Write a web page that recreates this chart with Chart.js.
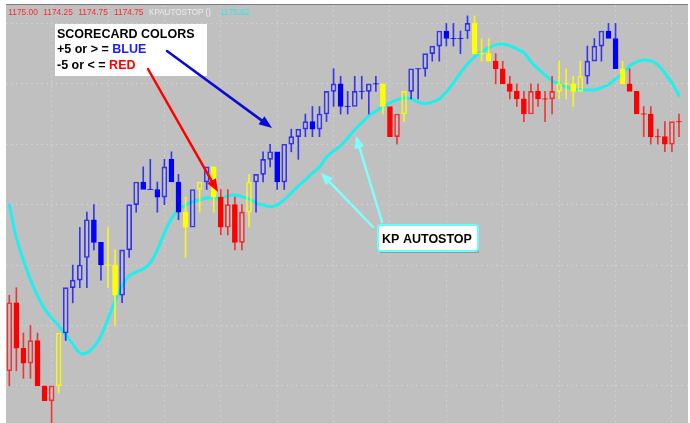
<!DOCTYPE html>
<html><head><meta charset="utf-8">
<script src="https://cdn.jsdelivr.net/npm/chart.js@4.4.1/dist/chart.umd.min.js"></script>
<style>html,body{margin:0;padding:0;background:#fff;overflow:hidden}</style>
</head><body>
<canvas id="c" width="690" height="423"></canvas>
<script>
// ---- data (prices) ----
const bars = Array.from({length: 96}, (_, i) => i + 1);
const opens = [1166.50,1168.75,1167.25,1166.75,1167.50,1166.00,1165.50,1166.00,1167.75,1169.25,
1169.50,1170.25,1171.50,1170.75,1170.00,1170.00,1169.00,1170.50,1172.00,1172.75,
1172.50,1172.50,1172.25,1173.50,1172.75,1171.75,1171.25,1172.50,1172.75,1173.25,
1172.25,1171.25,1172.00,1170.75,1171.75,1172.75,1173.00,1173.50,1173.75,1172.75,
1174.00,1174.25,1174.50,1174.75,1174.50,1175.00,1175.75,1176.00,1175.25,1175.25,
1175.75,1175.75,1176.00,1176.00,1175.25,1174.25,1175.00,1175.75,1176.50,1176.50,
1177.00,1177.25,1177.75,1177.50,1177.50,1177.75,1178.00,1177.00,1177.00,1176.75,
1176.50,1176.00,1175.75,1175.50,1175.00,1175.75,1175.50,1175.50,1175.75,1176.00,
1176.00,1175.75,1176.25,1176.75,1177.25,1177.75,1177.50,1176.50,1176.00,1175.75,
1175.00,1175.00,1174.25,1174.25,1174.00,1174.75];
const highs = [1169.00,1169.25,1167.75,1168.00,1167.75,1166.00,1166.00,1167.75,1169.25,1170.00,
1171.25,1171.75,1172.00,1170.75,1171.25,1170.50,1170.50,1172.00,1172.75,1173.25,
1173.50,1172.75,1173.50,1173.75,1173.00,1172.25,1172.50,1172.75,1173.25,1173.25,
1172.50,1172.50,1172.25,1172.00,1173.00,1173.00,1173.75,1174.00,1173.75,1174.00,
1174.50,1174.50,1175.00,1175.25,1175.25,1175.75,1176.50,1176.25,1175.75,1176.25,
1176.25,1176.00,1176.25,1176.00,1175.25,1175.00,1175.75,1176.50,1176.50,1177.00,
1177.25,1177.75,1178.00,1178.00,1177.75,1178.25,1178.25,1177.50,1177.50,1177.00,
1176.75,1176.25,1176.00,1175.75,1176.00,1176.00,1175.75,1176.25,1176.75,1176.50,
1176.25,1176.75,1177.25,1177.50,1177.75,1178.00,1178.00,1176.75,1176.50,1175.75,
1175.25,1175.25,1174.50,1174.75,1174.75,1175.00];
const lows = [1166.00,1166.50,1166.25,1166.25,1166.00,1165.50,1164.50,1165.75,1167.50,1168.75,
1169.25,1169.25,1170.50,1169.50,1169.25,1168.00,1168.75,1170.25,1171.75,1172.50,
1172.50,1171.75,1172.00,1172.75,1171.50,1170.25,1171.25,1171.75,1172.50,1171.75,
1171.00,1171.00,1170.50,1170.50,1171.25,1171.75,1172.75,1173.25,1172.50,1172.50,
1173.75,1173.50,1174.25,1174.25,1174.25,1174.75,1175.25,1175.00,1175.00,1175.25,
1175.50,1175.00,1175.75,1175.00,1174.25,1174.00,1174.75,1175.50,1175.50,1176.25,
1176.75,1176.75,1177.25,1177.25,1177.00,1177.50,1177.00,1176.75,1176.75,1176.00,
1176.00,1175.50,1175.25,1174.75,1175.00,1175.25,1174.75,1175.00,1175.50,1175.50,
1175.25,1175.75,1176.00,1176.75,1176.75,1177.50,1176.50,1176.00,1175.75,1175.00,
1174.25,1174.00,1174.00,1173.75,1173.75,1174.25];
const closes = [1168.75,1167.25,1166.75,1167.50,1166.00,1165.50,1166.00,1167.75,1169.25,1169.50,
1170.00,1171.50,1170.75,1170.00,1170.00,1169.00,1170.50,1172.00,1172.75,1172.50,
1172.50,1172.25,1173.25,1172.75,1171.75,1171.25,1172.50,1172.75,1173.25,1172.25,
1171.25,1172.00,1170.75,1171.75,1172.75,1173.00,1173.50,1173.75,1172.75,1174.00,
1174.25,1174.50,1174.75,1174.50,1175.00,1175.75,1176.00,1175.25,1175.25,1175.75,
1175.75,1176.00,1176.00,1175.25,1174.25,1175.00,1175.75,1176.50,1176.50,1177.00,
1177.25,1177.75,1177.50,1177.50,1177.50,1178.00,1177.00,1177.00,1176.75,1176.50,
1176.00,1175.75,1175.50,1175.00,1175.75,1175.50,1175.50,1175.75,1176.00,1176.00,
1175.75,1176.25,1176.75,1177.25,1177.75,1177.50,1176.50,1176.00,1175.75,1175.00,
1175.00,1174.25,1174.25,1174.00,1174.75,1174.75];
// scorecard colour of each bar: R = red, B = blue, Y = yellow
const scorecard = ['R','R','R','R','R','R','R','Y','B','B','B','B','B','B','Y','Y',
'B','B','B','B','B','B','B','B','B','Y','B','Y','B','Y','R','R','R','R','Y',
'B','B','B','B','B','B','B','B','B','B','B','B','B','B','B','B','B','B','Y','R','R','Y',
'B','B','B','B','B','B','B','B','B','Y','Y','Y','R','R','R','R','R','R','R','R','R',
'Y','Y','Y','Y','B','B','B','B','B','Y','R','R','R','R','R','R','R','R'];
const autostop = [1171.99,1170.90,1170.17,1169.51,1168.98,1168.55,1168.25,1167.99,1167.69,1167.39,
1167.09,1167.09,1167.29,1167.65,1168.22,1168.81,1169.31,1169.64,1169.77,1169.87,
1170.07,1170.50,1171.06,1171.53,1171.83,1171.99,1172.09,1172.16,1172.22,1172.22,
1172.22,1172.29,1172.32,1172.26,1172.19,1172.06,1171.99,1171.93,1171.99,1172.16,
1172.39,1172.62,1172.82,1173.05,1173.25,1173.58,1173.78,1173.95,1174.21,1174.48,
1174.71,1174.94,1175.10,1175.24,1175.37,1175.47,1175.53,1175.50,1175.40,1175.34,
1175.40,1175.50,1175.73,1176.03,1176.36,1176.66,1176.89,1177.06,1177.19,1177.29,
1177.32,1177.26,1177.16,1177.03,1176.73,1176.50,1176.30,1176.10,1176.00,1175.90,
1175.83,1175.80,1175.80,1175.80,1175.87,1175.97,1176.16,1176.33,1176.59,1176.73,
1176.79,1176.76,1176.63,1176.36,1176.03,1175.62];
const gridBars = [7,15,23,31,39,47,55,63,71,79,87,95];
const gridPrices = [1166,1168,1170,1172,1174,1176,1178];
const headerOHLC = ['1175.00','1174.25','1174.75','1174.75'];
const headerStop = '1175.62';

// ---- styles ----
const FULL = {R:'#ff0000', B:'#0000ff', Y:'#ffff00'};
const SOFT = {R:'rgba(255,0,0,0.72)', B:'rgba(0,0,255,0.72)', Y:'rgba(255,255,0,0.85)'};
const up = i => closes[i] > opens[i];
const bodyLo = i => Math.min(opens[i], closes[i]);
const bodyHi = i => Math.max(opens[i], closes[i]);

const lowerWick = bars.map((b,i) => ({x:b, y: lows[i] < bodyLo(i) ? [lows[i], bodyLo(i)] : null}));
const upperWick = bars.map((b,i) => ({x:b, y: highs[i] > bodyHi(i) ? [bodyHi(i), highs[i]] : null}));
const bodies = bars.map((b,i) => ({x:b, y: opens[i] === closes[i] ? null : [bodyLo(i), bodyHi(i)]}));
const dojis = bars.map((b,i) => ({x:b, y: opens[i] === closes[i] ? closes[i] : null}));
const wickColors = scorecard.map(s => SOFT[s]);

function arrow(ctx, x1, y1, x2, y2, color, w, hl, hw){
  const a = Math.atan2(y2 - y1, x2 - x1), c = Math.cos(a), s = Math.sin(a);
  ctx.strokeStyle = color; ctx.lineWidth = w; ctx.lineCap = 'round';
  ctx.beginPath(); ctx.moveTo(x1, y1); ctx.lineTo(x2 - c*hl*0.7, y2 - s*hl*0.7); ctx.stroke();
  ctx.fillStyle = color; ctx.beginPath(); ctx.moveTo(x2, y2);
  ctx.lineTo(x2 - hl*c + hw*s, y2 - hl*s - hw*c);
  ctx.lineTo(x2 - hl*c - hw*s, y2 - hl*s + hw*c);
  ctx.closePath(); ctx.fill();
}

const decor = {
  id: 'decor',
  beforeDraw(chart){
    const {ctx, chartArea: a} = chart;
    ctx.save();
    ctx.fillStyle = '#ffffff'; ctx.fillRect(0, 0, chart.width, chart.height);
    ctx.fillStyle = '#c0c0c0'; ctx.fillRect(a.left, a.top, a.right - a.left, a.bottom - a.top);
    ctx.strokeStyle = '#7a7a7a'; ctx.lineWidth = 1;
    ctx.beginPath(); ctx.moveTo(a.left, a.top - 0.5); ctx.lineTo(a.right, a.top - 0.5); ctx.stroke();
    ctx.restore();
  },
  afterDraw(chart){
    const {ctx, chartArea: a} = chart;
    const T = a.top;
    ctx.save();
    // header line
    ctx.font = "9px 'Liberation Sans', Arial, sans-serif";
    ctx.textBaseline = 'alphabetic'; ctx.textAlign = 'left';
    const hx = [8.3, 43.3, 78.3, 114];
    ctx.fillStyle = '#ff2a2a';
    headerOHLC.forEach((t,k) => ctx.fillText(t, hx[k], T + 10, 29.5));
    ctx.fillStyle = '#ececec'; ctx.fillText('KPAUTOSTOP ()', 149, T + 10, 62);
    ctx.fillStyle = '#2ee8e8'; ctx.fillText(headerStop, 220, T + 10, 29.5);

    // scorecard box
    ctx.fillStyle = '#ffffff'; ctx.fillRect(55, 24, 152, 52);
    ctx.font = "bold 12.5px 'Liberation Sans', Arial, sans-serif";
    ctx.fillStyle = '#000000';
    ctx.fillText('SCORECARD COLORS', 57, 37.5);
    ctx.fillText('+5 or > = ', 57, 53);
    let w = ctx.measureText('+5 or > = ').width;
    ctx.fillStyle = '#1a1aff'; ctx.fillText('BLUE', 57 + w, 53);
    ctx.fillStyle = '#000000'; ctx.fillText('-5 or < = ', 57, 68.5);
    w = ctx.measureText('-5 or < = ').width;
    ctx.fillStyle = '#ff0000'; ctx.fillText('RED', 57 + w, 68.5);

    // arrows
    arrow(ctx, 167, 51, 272, 128, '#0a0ad8', 2.5, 13, 5);
    arrow(ctx, 148, 69, 218, 192, '#ff0000', 2.5, 13, 5);
    arrow(ctx, 373, 227, 321, 173, '#80ffff', 2.5, 12, 5);
    arrow(ctx, 382, 222, 356, 136, '#80ffff', 2.5, 12, 5);

    // KP AUTOSTOP box
    ctx.fillStyle = '#9a9a9a'; ctx.fillRect(380, 228, 99, 25);
    ctx.beginPath();
    if (ctx.roundRect) ctx.roundRect(378, 225, 100, 26, 3); else ctx.rect(378, 225, 100, 26);
    ctx.fillStyle = '#ffffff'; ctx.fill();
    ctx.strokeStyle = '#66ffff'; ctx.lineWidth = 2; ctx.stroke();
    ctx.fillStyle = '#000000'; ctx.textAlign = 'center';
    ctx.font = "bold 12.5px 'Liberation Sans', Arial, sans-serif";
    ctx.fillText('KP AUTOSTOP', 427, 242.5);
    ctx.restore();
  }
};

const gridOpts = {color: 'rgba(212,212,212,0.7)', drawTicks: false, lineWidth: 1};
new Chart(document.getElementById('c'), {
  type: 'bar',
  data: {
    datasets: [
      {type:'line', label:'KP AUTOSTOP', data: bars.map((b,i) => ({x:b, y:autostop[i]})),
       borderColor:'#1ef0f0', borderWidth:3, pointRadius:0, tension:0.4, order:10,
       borderCapStyle:'round', borderJoinStyle:'round'},
      {type:'bar', label:'lower wick', data: lowerWick, backgroundColor: wickColors,
       barThickness:1, grouped:false, borderWidth:0, order:4},
      {type:'bar', label:'upper wick', data: upperWick, backgroundColor: wickColors,
       barThickness:1, grouped:false, borderWidth:0, order:4},
      {type:'bar', label:'body', data: bodies,
       backgroundColor: scorecard.map((s,i) => up(i) ? 'rgba(0,0,0,0)' : FULL[s]),
       borderColor: scorecard.map((s,i) => up(i) ? SOFT[s] : FULL[s]),
       borderWidth:1, borderSkipped:false, barThickness:5, grouped:false, order:2},
      {type:'line', label:'doji', data: dojis, showLine:false, pointStyle:'line',
       pointRadius:3, pointBorderWidth:1, pointBorderColor: wickColors, order:1}
    ]
  },
  options: {
    responsive: false, animation: false,
    layout: {autoPadding: false, padding: {left: 6, top: 5, right: 2, bottom: 0}},
    plugins: {legend: {display: false}, tooltip: {enabled: false}},
    scales: {
      x: {type:'linear', min:0.53, max:97.28, offset:false,
          ticks:{display:false}, grid:{...gridOpts, offset:false},
          border:{display:false, dash:[2,3]},
          afterBuildTicks: s => { s.ticks = gridBars.map(v => ({value: v})); }},
      y: {type:'linear', min:1164.77, max:1178.61, beginAtZero:false,
          ticks:{display:false}, grid: gridOpts,
          border:{display:false, dash:[2,3]},
          afterBuildTicks: s => { s.ticks = gridPrices.map(v => ({value: v})); }}
    }
  },
  plugins: [decor]
});
</script>
</body></html>
